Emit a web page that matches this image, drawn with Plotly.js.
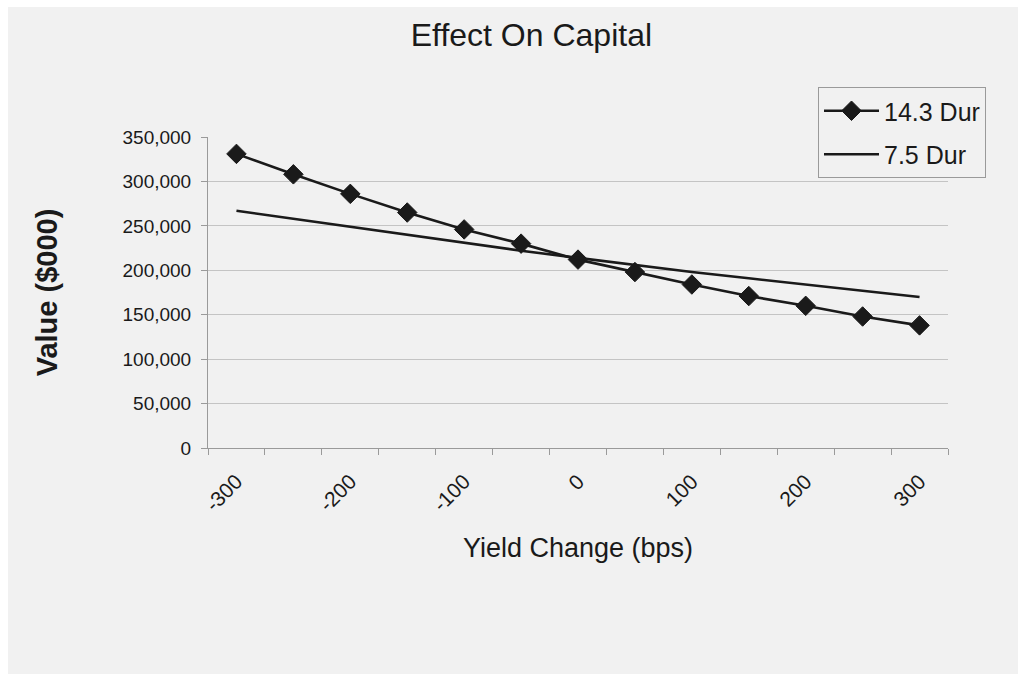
<!DOCTYPE html>
<html>
<head>
<meta charset="utf-8">
<script src="https://cdn.plot.ly/plotly-3.0.1.min.js"></script>
<style>
  html, body { margin: 0; padding: 0; background: #ffffff; }
  #chart { width: 1018px; height: 674px; }
</style>
</head>
<body>
<div id="chart"></div>
<script>
// Yield change in basis points (categories)
const yieldChange = [-300, -250, -200, -150, -100, -50, 0, 50, 100, 150, 200, 250, 300];
// Value ($000) for each duration
const dur143 = [331000, 308000, 286000, 265000, 246000, 230000, 212000, 198000, 184000, 171000, 160000, 148000, 138000];
const dur75  = [267000, 258000, 249000, 240000, 231000, 222000, 214000, 206000, 198000, 191000, 184000, 177000, 170000];
// Tick labels
const xTickVals = [-300, -200, -100, 0, 100, 200, 300];
const xTickText = ['-300', '-200', '-100', '0', '100', '200', '300'];
const seriesNames = ['14.3 Dur', '7.5 Dur'];

const FONT = '"Liberation Sans", Arial, sans-serif';
const INK = '#1a1a1a';

const traces = [
  {
    x: yieldChange, y: dur143, name: seriesNames[0], type: 'scatter', mode: 'lines+markers',
    legendgroup: 'a',
    line: { color: INK, width: 2.6 },
    marker: { symbol: 'diamond', size: 15, color: INK, line: { color: INK, width: 1 } }
  },
  {
    x: yieldChange, y: dur75, name: seriesNames[1], type: 'scatter', mode: 'lines',
    legendgroup: 'b',
    line: { color: INK, width: 2.6 }
  }
];

// plot area in px: x 208..948, y 137..448
const PX = v => (v - 208) / 740;
const PY = v => (448 - v) / 311;

const layout = {
  width: 1018, height: 674,
  margin: { l: 208, r: 70, t: 137, b: 226, pad: 0 },
  paper_bgcolor: '#ffffff',
  plot_bgcolor: 'rgba(0,0,0,0)',
  font: { family: FONT, color: INK, size: 19 },
  showlegend: true,
  title: {
    text: 'Effect On Capital',
    font: { family: FONT, size: 32, color: INK },
    xref: 'container', x: 0.522, xanchor: 'center',
    yref: 'container', y: 1 - 35 / 674, yanchor: 'middle'
  },
  xaxis: {
    type: 'linear',
    range: [-325, 325],
    tickmode: 'array', tickvals: xTickVals, ticktext: xTickText,
    tickangle: -45,
    ticks: '',
    ticklabelstandoff: 12,
    tickfont: { family: FONT, size: 21, color: INK },
    showgrid: false, zeroline: false,
    showline: true, linecolor: '#9a9a9a', linewidth: 1,
    minor: { tick0: -325, dtick: 50, ticks: 'outside', ticklen: 6, tickcolor: '#9a9a9a', tickwidth: 1, showgrid: false },
    title: { text: 'Yield Change (bps)', font: { family: FONT, size: 27, color: INK }, standoff: 23 },
    fixedrange: true
  },
  yaxis: {
    range: [0, 350000],
    tickmode: 'linear', tick0: 0, dtick: 50000,
    tickformat: ',d',
    ticks: 'outside', ticklen: 6, tickcolor: '#9a9a9a',
    ticklabelstandoff: 6,
    tickfont: { family: FONT, size: 19, color: INK },
    showgrid: true, gridcolor: '#c4c4c4', gridwidth: 1,
    zeroline: false,
    showline: true, linecolor: '#9a9a9a', linewidth: 1,
    title: { text: '<b>Value ($000)</b>', font: { family: FONT, size: 29, color: INK }, standoff: 56 },
    fixedrange: true
  },
  legend: {
    x: PX(818), y: PY(87), xanchor: 'left', yanchor: 'top',
    bgcolor: 'rgba(0,0,0,0)', bordercolor: '#9a9a9a', borderwidth: 1,
    font: { family: FONT, size: 25, color: INK },
    traceorder: 'grouped', tracegroupgap: 8,
    itemwidth: 55
  },
  shapes: [
    { type: 'rect', xref: 'paper', yref: 'paper', layer: 'below',
      x0: PX(8), x1: PX(1018), y0: PY(674), y1: PY(7),
      fillcolor: '#f1f1f1', line: { width: 0 } }
  ]
};

Plotly.newPlot('chart', traces, layout, { displayModeBar: false, staticPlot: true });
</script>
</body>
</html>
